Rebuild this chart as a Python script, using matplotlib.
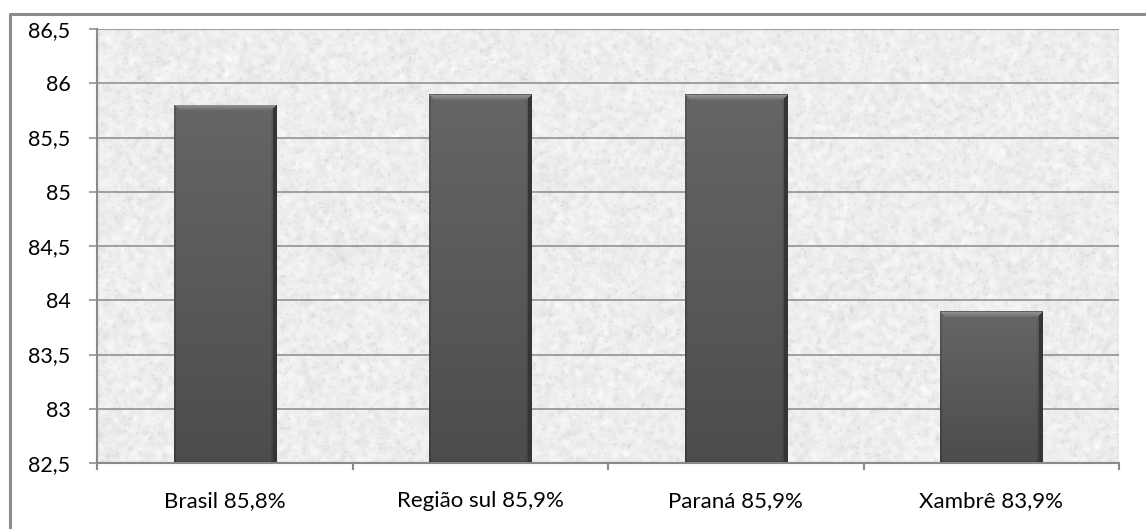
import matplotlib
matplotlib.use("Agg")
import matplotlib.pyplot as plt
import numpy as np
from matplotlib.lines import Line2D
from matplotlib.ticker import FuncFormatter, FixedLocator

categories = ["Brasil 85,8%", "Região sul 85,9%", "Paraná 85,9%", "Xambrê 83,9%"]
values = [85.8, 85.9, 85.9, 83.9]
y_ticks = [82.5, 83, 83.5, 84, 84.5, 85, 85.5, 86, 86.5]

plt.rcParams["font.family"] = ["Lato", "DejaVu Sans"]

W, H = 1146, 529
fig = plt.figure(figsize=(W / 100, H / 100), dpi=100)
fig.patch.set_facecolor("white")
ax = fig.add_axes([97 / W, 1 - 463 / H, (1119 - 97) / W, (463 - 29) / H])

# granite-like backdrop for the plot area
rng = np.random.default_rng(7)
noise = rng.random((220, 520))
k = np.ones(3) / 3
noise = np.apply_along_axis(lambda r: np.convolve(r, k, mode="same"), 1, noise)
noise = np.apply_along_axis(lambda c: np.convolve(c, k, mode="same"), 0, noise)
fine = rng.random((220, 520))
tex = 0.935 + (noise - 0.5) * 0.16 - (fine > 0.94) * 0.06
tex = np.clip(tex, 0.78, 1.0)
ax.imshow(np.dstack([tex] * 3), extent=(0, 1, 0, 1), transform=ax.transAxes,
          aspect="auto", interpolation="bilinear", zorder=0)

x = np.arange(len(categories))
ax.set_xlim(-0.5, len(categories) - 0.5)
ax.set_ylim(y_ticks[0], y_ticks[-1])

for yv in y_ticks[1:]:
    ax.axhline(yv, color="#8a8a8a", lw=1.1, zorder=1)

bars = ax.bar(x, [v - y_ticks[0] for v in values], bottom=y_ticks[0], width=0.4,
              color="#5e5e5e", edgecolor="none", zorder=2)

# shaded fill for each bar: bevelled top, darker right edge, slight darkening downward
px_per_y = (463 - 29) / (y_ticks[-1] - y_ticks[0])
for b in bars:
    x0, w = b.get_x(), b.get_width()
    y0, h = b.get_y(), b.get_height()
    hp = max(int(round(h * px_per_y)), 10)
    wp = 102
    img = np.zeros((hp, wp))
    vert = np.linspace(0.40, 0.30, hp)[:, None]
    img[:] = vert
    img[:, :2] -= 0.06
    img[:, -4:] = 0.21
    img[:, -6:-4] -= 0.04
    bevel = [0.38, 0.56, 0.53, 0.50, 0.47, 0.44]
    for i, c in enumerate(bevel):
        img[i, i:wp - i] = c
    img[-2:, :] -= 0.04
    im = ax.imshow(np.dstack([img] * 3), extent=(x0, x0 + w, y0, y0 + h),
                   aspect="auto", interpolation="nearest", zorder=3)
    im.set_clip_path(b)

ax.set_xlim(-0.5, len(categories) - 0.5)
ax.set_ylim(y_ticks[0], y_ticks[-1])

ax.yaxis.set_major_locator(FixedLocator(y_ticks))
ax.yaxis.set_major_formatter(FuncFormatter(lambda v, p: f"{v:g}".replace(".", ",")))
ax.set_xticks(x)
ax.set_xticklabels(categories)
ax.set_xticks(np.arange(-0.5, len(categories)), minor=True)
ax.tick_params(axis="x", which="major", length=0, pad=20, labelsize=16)
ax.tick_params(axis="x", which="minor", length=5, color="#8a8a8a", width=1.5)
ax.tick_params(axis="y", length=6, color="#8a8a8a", width=1.1, pad=13, labelsize=15.5)

for s in ["top", "right"]:
    ax.spines[s].set_visible(False)
for s in ["left", "bottom"]:
    ax.spines[s].set_color("#8a8a8a")
    ax.spines[s].set_linewidth(1.5)
    ax.spines[s].set_zorder(4)

# chart frame
fig.add_artist(Line2D([9.5 / W, 9.5 / W, 1.0], [0.0, 1 - 13.5 / H, 1 - 13.5 / H],
                      transform=fig.transFigure, color="#8c8c8c", lw=2.2))

fig.savefig("out.png", dpi=100)
